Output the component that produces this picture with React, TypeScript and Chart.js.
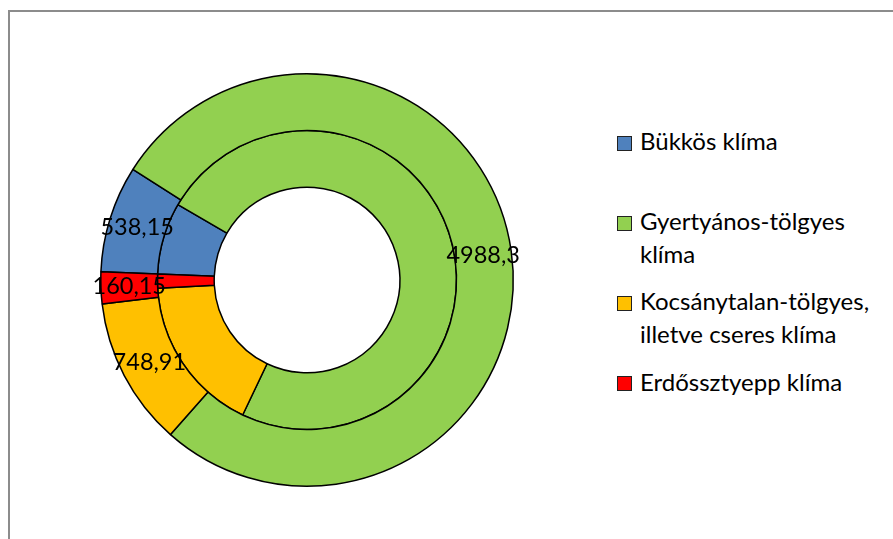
import React, { useEffect, useRef } from "react";
import { Chart, registerables } from "chart.js";

Chart.register(...registerables);

const categories = [
  "Bükkös klíma",
  "Gyertyános-tölgyes klíma",
  "Kocsánytalan-tölgyes, illetve cseres klíma",
  "Erdőssztyepp klíma",
];
const outerValues = [538.15, 4988.3, 748.91, 160.15];
const innerValues = [500.6, 4740.0, 1096.0, 98.3];
const valueLabels = ["538,15", "4988,3", "748,91", "160,15"];
const colors = ["#4F81BD", "#92D050", "#FFC000", "#FF0000"];

const FONT = "Lato, 'Open Sans', sans-serif";

const labelPlugin = {
  id: "ringLabels",
  afterDatasetsDraw(chart: any) {
    const ctx = chart.ctx;
    const meta = chart.getDatasetMeta(0);
    ctx.save();
    ctx.font = `23.5px ${FONT}`;
    ctx.fillStyle = "#000";
    ctx.textAlign = "center";
    ctx.textBaseline = "middle";
    meta.data.forEach((arc: any, i: number) => {
      const p = arc.tooltipPosition();
      ctx.fillText(valueLabels[i], p.x, p.y);
    });
    ctx.restore();
  },
};

export default function App() {
  const ref = useRef<HTMLCanvasElement>(null);
  useEffect(() => {
    if (!ref.current) return;
    const chart = new Chart(ref.current, {
      type: "doughnut",
      data: {
        labels: categories,
        datasets: [
          {
            data: outerValues,
            backgroundColor: colors,
            borderColor: "#000",
            borderWidth: 1.5,
          },
          {
            data: innerValues,
            backgroundColor: colors,
            borderColor: "#000",
            borderWidth: 1.5,
          },
        ],
      },
      options: {
        responsive: false,
        animation: false,
        cutout: "45%",
        rotation: -87.7,
        layout: { padding: 40 },
        plugins: {
          legend: { display: false },
          tooltip: { enabled: false },
        },
      },
      plugins: [labelPlugin],
    });
    return () => chart.destroy();
  }, []);

  return (
    <div
      style={{
        position: "fixed",
        left: 0,
        top: 0,
        width: 893,
        height: 539,
        overflow: "hidden",
        fontFamily: FONT,
        background: "#fff",
      }}
    >
      <div
        style={{
          position: "absolute",
          left: 8,
          top: 10,
          width: 2000,
          height: 2000,
          borderLeft: "2px solid #8c8c8c",
          borderTop: "2px solid #8c8c8c",
        }}
      />
      <canvas
        ref={ref}
        width={494}
        height={494}
        style={{ position: "absolute", left: 60, top: 33, width: 494, height: 494 }}
      />
      {categories.map((c, i) => (
        <div
          key={c}
          style={{
            position: "absolute",
            left: 617,
            top: 124 + 80.2 * i,
            display: "flex",
            alignItems: "flex-start",
          }}
        >
          <div
            style={{
              width: 15,
              height: 15,
              boxSizing: "border-box",
              marginTop: 11.5,
              background: colors[i],
              border: "1.5px solid #222",
              flex: "none",
            }}
          />
          <div
            style={{
              marginLeft: 8,
              width: 255,
              fontSize: 24,
              lineHeight: "33px",
              color: "#000",
            }}
          >
            {c}
          </div>
        </div>
      ))}
    </div>
  );
}
